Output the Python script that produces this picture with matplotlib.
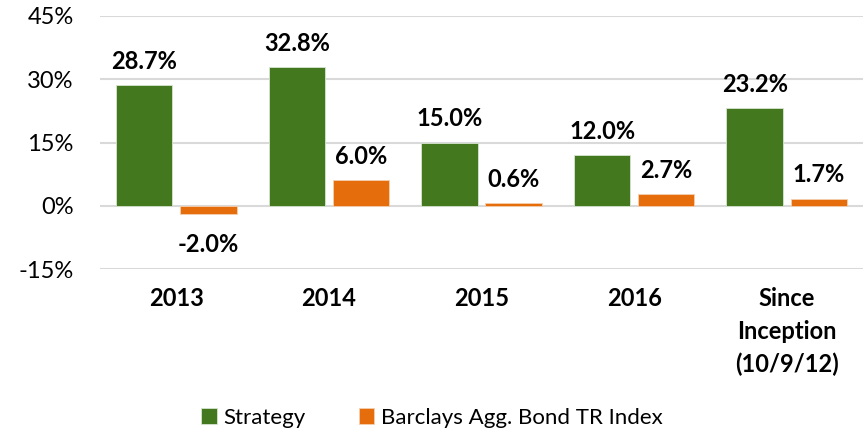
import matplotlib.pyplot as plt
import numpy as np

categories = ["2013", "2014", "2015", "2016", "Since\nInception\n(10/9/12)"]
strategy = [28.7, 32.8, 15.0, 12.0, 23.2]
barclays = [-2.0, 6.0, 0.6, 2.7, 1.7]
yticks = [-15, 0, 15, 30, 45]

green = '#43781F'
orange = '#E56D0C'

plt.rcParams['font.family'] = ['Lato', 'DejaVu Sans']

fig = plt.figure(figsize=(8.63, 4.32), dpi=100)
ax = fig.add_axes([100 / 863, 1 - 269 / 432, 763 / 863, 253 / 432])

x = np.arange(len(categories))
w = 0.37
b1 = ax.bar(x - 0.21, strategy, w, color=green, edgecolor='#d8e4d0', linewidth=0.6,
            label='Strategy', zorder=3)
b2 = ax.bar(x + 0.21, barclays, w, color=orange, edgecolor='#f5d0b0', linewidth=0.6,
            label='Barclays Agg. Bond TR Index', zorder=3)

for bars, vals in [(b1, strategy), (b2, barclays)]:
    for rect, v in zip(bars, vals):
        cx = rect.get_x() + rect.get_width() / 2
        if v >= 0:
            ax.annotate(f'{v:.1f}%', (cx, v), xytext=(0, 17), textcoords='offset points',
                        ha='center', va='center', fontsize=17, fontweight='bold')
        else:
            ax.annotate(f'{v:.1f}%', (cx, v), xytext=(0, -22), textcoords='offset points',
                        ha='center', va='center', fontsize=17, fontweight='bold')

ax.set_xlim(-0.5, len(categories) - 0.5)
ax.set_ylim(-15, 45)
ax.set_yticks(yticks)
ax.set_yticklabels([f'{t}%' for t in yticks], fontsize=17)
ax.set_xticks(x)
ax.set_xticklabels(categories, fontsize=17, fontweight='bold', linespacing=1.5, va='top')
ax.tick_params(axis='both', length=0)
ax.tick_params(axis='y', pad=19)
ax.tick_params(axis='x', pad=13)
ax.grid(axis='y', color='#D9D9D9', linewidth=1.5, zorder=0)
for s in ax.spines.values():
    s.set_visible(False)

ax.legend(loc='center', bbox_to_anchor=(0.435, -0.589), ncol=2, frameon=False,
          fontsize=16, handlelength=0.7, handleheight=0.7, handletextpad=0.3,
          columnspacing=2.4)

fig.savefig('out.png', dpi=100)
